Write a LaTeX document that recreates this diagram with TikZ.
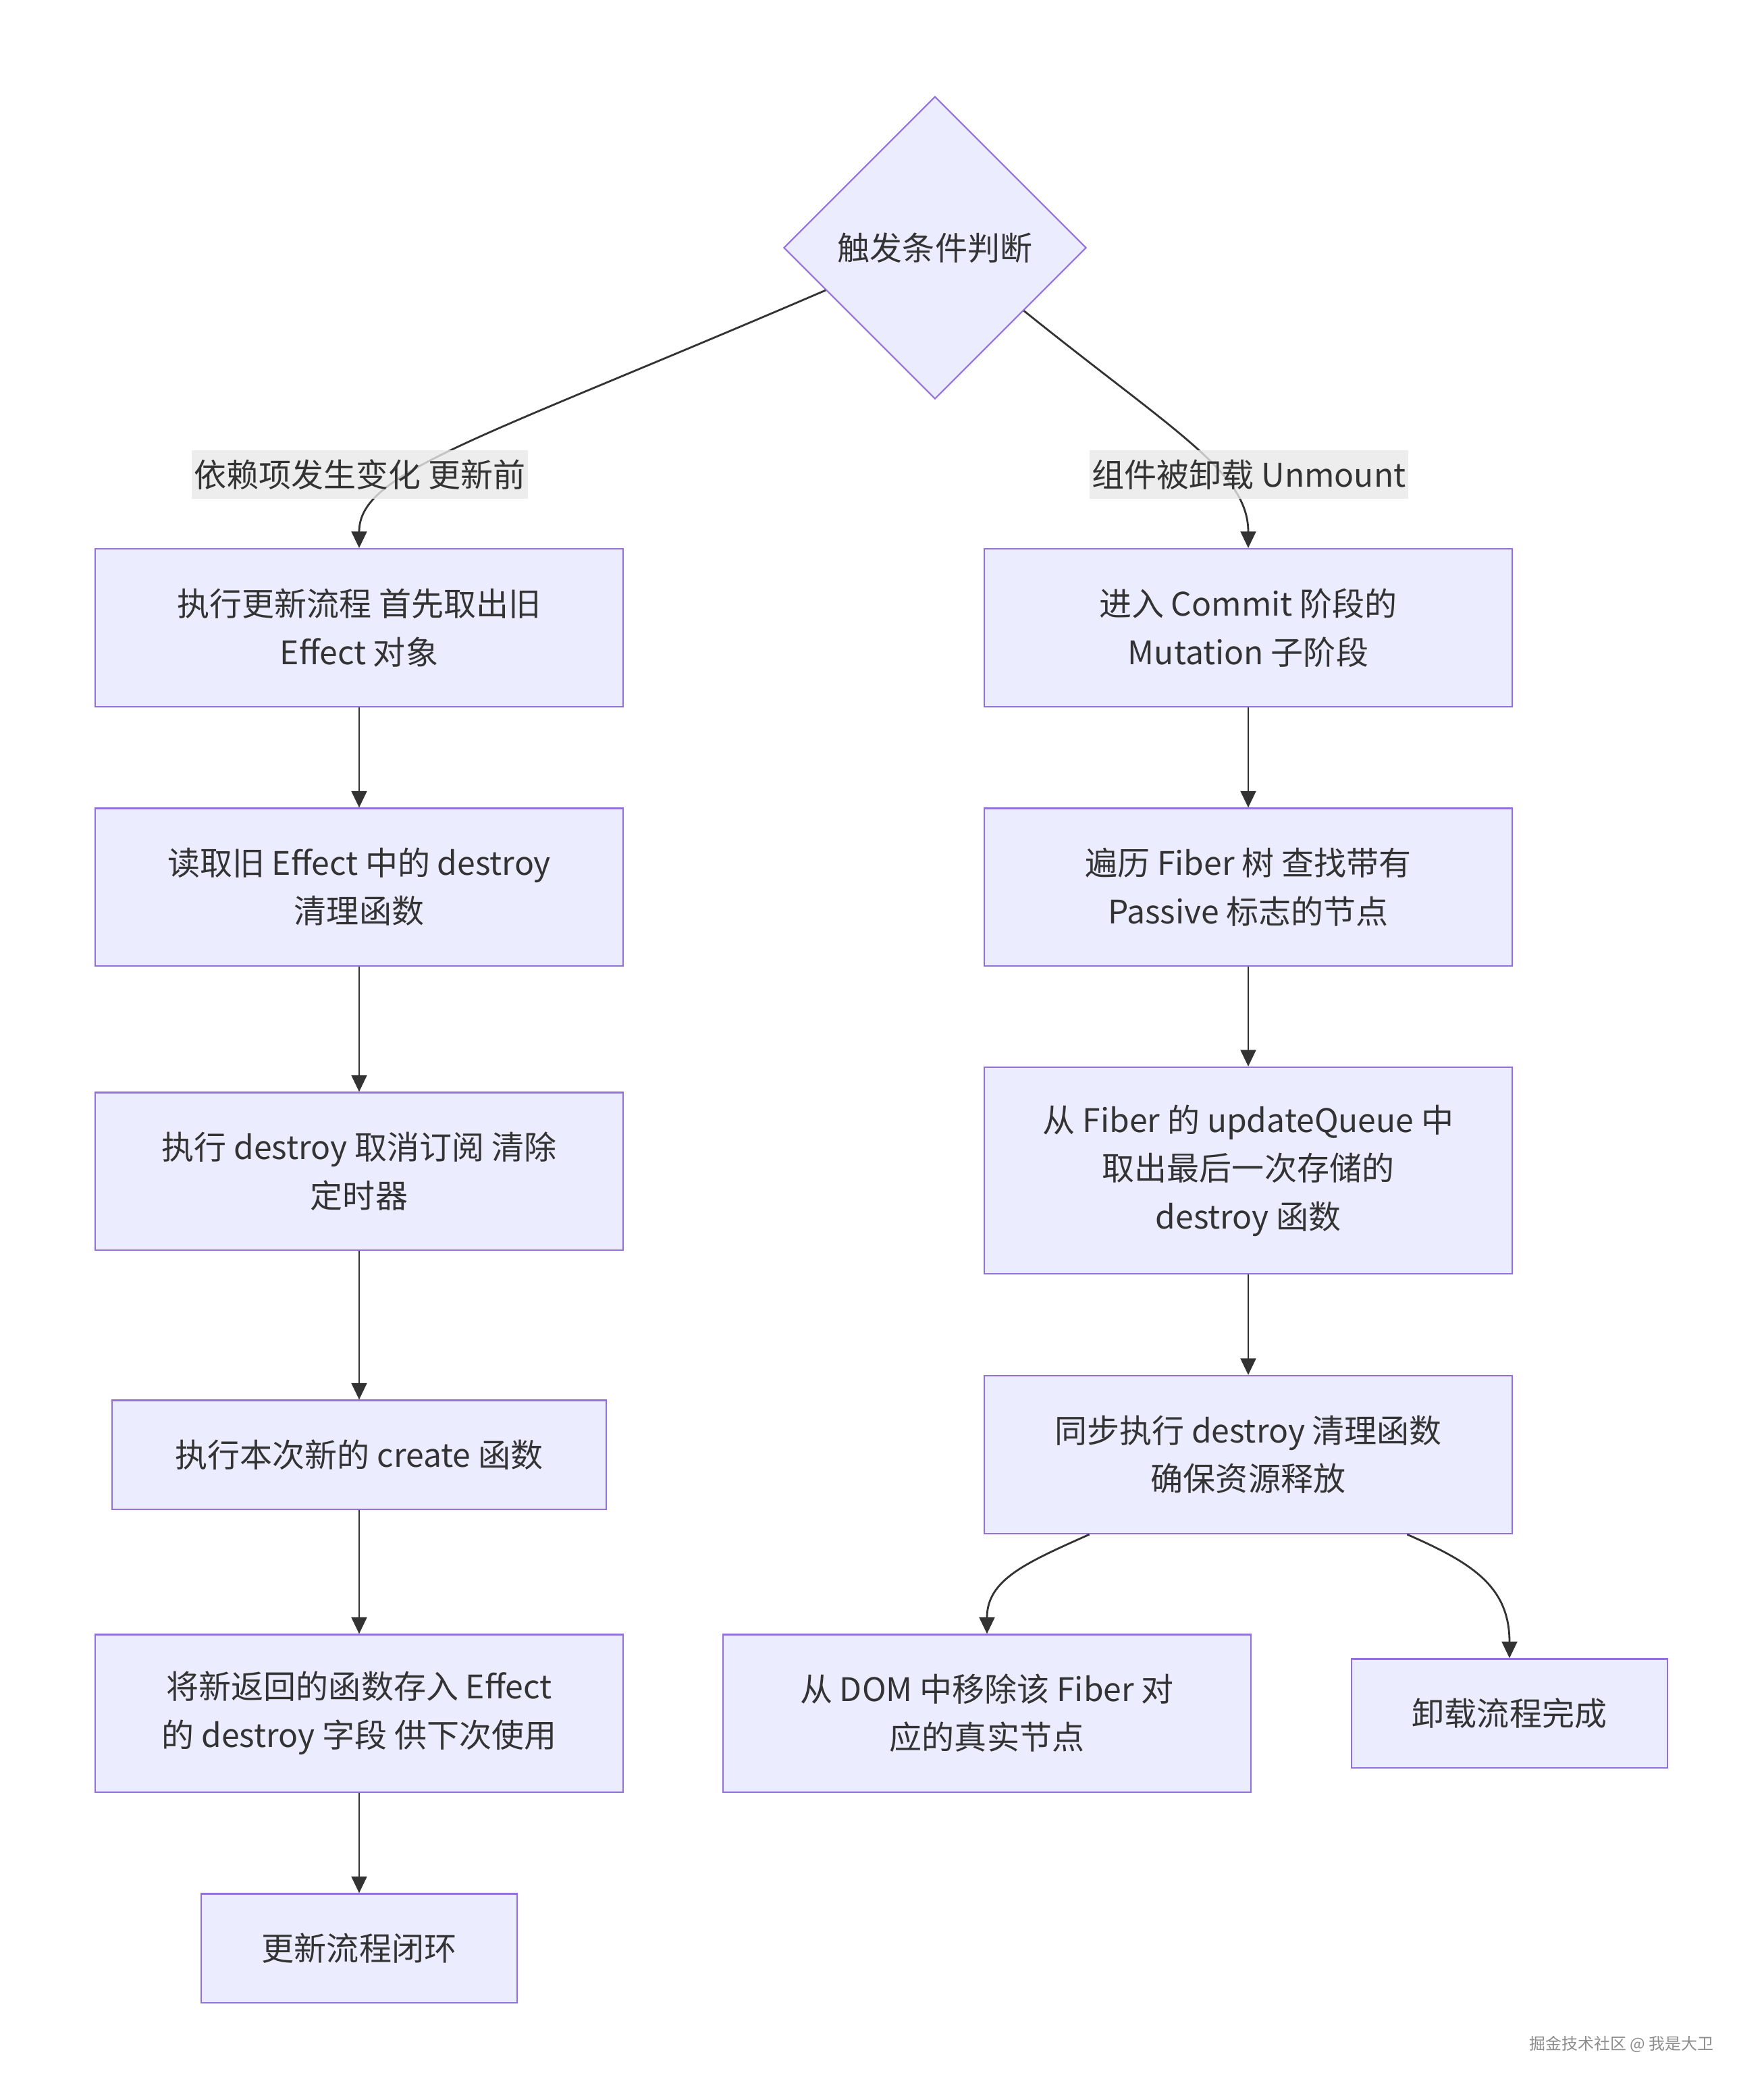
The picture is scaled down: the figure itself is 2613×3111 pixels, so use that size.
\documentclass[tikz,border=0pt]{standalone}
\usepackage{fontspec}
\setmainfont{Noto Sans CJK SC}
\usepackage{tikz}
\usetikzlibrary{positioning,arrows.meta,shapes.geometric,calc}
\definecolor{boxfill}{HTML}{ECECFF}
\definecolor{boxline}{HTML}{9370DB}
\definecolor{inktext}{HTML}{333333}
\definecolor{labelbg}{HTML}{E8E8E8}

\begin{document}
\begin{tikzpicture}[x=0.01cm, y=-0.01cm,
    font=\fontsize{13.66pt}{20.3pt}\selectfont, text=inktext,
    flowbox/.style={rectangle, draw=boxline, fill=boxfill, line width=0.6pt, minimum width=7.82cm, minimum height=2.33cm, align=center, inner sep=0pt},
    decision/.style={diamond, draw=boxline, fill=boxfill, line width=0.6pt, minimum width=4.48cm, minimum height=4.48cm, inner sep=0pt},
    edgelabel/.style={fill=labelbg, fill opacity=0.8, text opacity=1, minimum height=0.71cm, inner xsep=1pt, inner ysep=0pt},
    flow/.style={->, >={Triangle[length=7pt, width=6.5pt]}, draw=inktext, line width=0.8pt}
    ]
        \useasboundingbox (0,0) rectangle (2613,3111);

        %Nodes
        \node[decision] (judge) at (1385,367) {触发条件判断};

        \node[flowbox, minimum height=2.34cm] (takeold)  at (532,930)  {执行更新流程 首先取出旧\\Effect 对象};
        \node[flowbox] (readdestroy) at (532,1314) {读取旧 Effect 中的 destroy\\清理函数};
        \node[flowbox] (rundestroy)  at (532,1735) {执行 destroy 取消订阅 清除\\定时器};
        \node[flowbox, minimum width=7.32cm, minimum height=1.61cm] (runcreate) at (532,2155) {执行本次新的 create 函数};
        \node[flowbox] (storenew)    at (532,2538) {将新返回的函数存入 Effect\\的 destroy 字段 供下次使用};
        \node[flowbox, minimum width=4.68cm, minimum height=1.61cm] (updone) at (532,2886) {更新流程闭环};

        \node[flowbox, minimum height=2.34cm] (commit) at (1849,930) {进入 Commit 阶段的\\Mutation 子阶段};
        \node[flowbox] (walkfiber)   at (1849,1314) {遍历 Fiber 树 查找带有\\Passive 标志的节点};
        \node[flowbox, minimum height=3.06cm] (lastdestroy) at (1849,1734) {从 Fiber 的 updateQueue 中\\取出最后一次存储的\\destroy 函数};
        \node[flowbox, minimum height=2.34cm] (syncdestroy) at (1849,2155) {同步执行 destroy 清理函数\\确保资源释放};
        \node[flowbox] (removedom)   at (1462,2538) {从 DOM 中移除该 Fiber 对\\应的真实节点};
        \node[flowbox, minimum width=4.68cm, minimum height=1.61cm] (unmountdone) at (2236,2538) {卸载流程完成};

        %Lines
        \draw[flow] ($(judge.west)!0.28!(judge.south)$)
            .. controls (700,655) and (532,700) .. (takeold.north);
        \draw[flow] ($(judge.east)!0.415!(judge.south)$)
            .. controls (1740,640) and (1849,700) .. (commit.north);
        \draw[flow] (takeold) -- (readdestroy);
        \draw[flow] (readdestroy) -- (rundestroy);
        \draw[flow] (rundestroy) -- (runcreate);
        \draw[flow] (runcreate) -- (storenew);
        \draw[flow] (storenew) -- (updone);
        \draw[flow] (commit) -- (walkfiber);
        \draw[flow] (walkfiber) -- (lastdestroy);
        \draw[flow] (lastdestroy) -- (syncdestroy);
        \draw[flow] ($(syncdestroy.south west)!0.2!(syncdestroy.south east)$)
            .. controls (1520,2315) and (1462,2340) .. (removedom.north);
        \draw[flow] ($(syncdestroy.south west)!0.8!(syncdestroy.south east)$)
            .. controls (2180,2315) and (2236,2350) .. (unmountdone.north);

        %Edge labels
        \node[edgelabel] (lbupdate)  at (533,703)  {依赖项发生变化 更新前};
        \node[edgelabel] (lbunmount) at (1850,703) {组件被卸载 Unmount};

        \node[text=black!45, font=\fontsize{6.8pt}{8pt}\selectfont] (mark) at (2402,3028) {掘金技术社区 @ 我是大卫};
    \end{tikzpicture}
\end{document}
